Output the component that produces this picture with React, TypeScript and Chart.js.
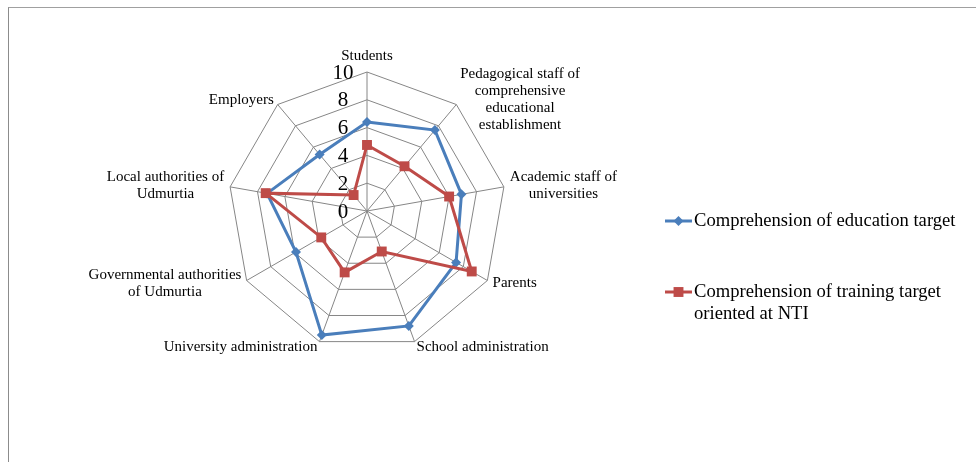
import { useEffect, useRef } from "react";
import { Chart, registerables } from "chart.js";

Chart.register(...registerables);

const categories: (string | string[])[] = [
  "Students",
  ["Pedagogical staff of", "comprehensive", "educational", "establishment"],
  ["Academic staff of", "universities"],
  "Parents",
  "School administration",
  "University administration",
  ["Governmental authorities", "of Udmurtia"],
  ["Local authorities of", "Udmurtia"],
  "Employers",
];

const educationTarget = [6.4, 7.6, 6.9, 7.4, 8.8, 9.5, 5.9, 7.3, 5.3];
const trainingTarget = [4.75, 4.2, 6.0, 8.7, 3.1, 4.7, 3.8, 7.4, 1.5];

const tickValues = [0, 2, 4, 6, 8, 10];

const seriesNames = [
  "Comprehension of education target",
  "Comprehension of training target oriented at NTI",
];
const legendLines: string[][] = [
  ["Comprehension of education target"],
  ["Comprehension of training target", "oriented at NTI"],
];

const BLUE = "#4A7EBB";
const RED = "#BE4B48";
const GRID = "#868686";
const SERIF = "'Liberation Serif', 'Times New Roman', serif";

function drawMarker(ctx: CanvasRenderingContext2D, style: string, x: number, y: number, r: number, color: string) {
  ctx.beginPath();
  if (style === "rectRot") {
    ctx.moveTo(x - r, y);
    ctx.lineTo(x, y - r);
    ctx.lineTo(x + r, y);
    ctx.lineTo(x, y + r);
    ctx.closePath();
  } else {
    const s = Math.SQRT1_2 * r;
    ctx.rect(x - s, y - s, 2 * s, 2 * s);
  }
  ctx.fillStyle = color;
  ctx.fill();
}

const radarDecor = {
  id: "radarDecor",
  afterDraw(chart: any) {
    const scale = chart.scales.r;
    const ctx: CanvasRenderingContext2D = chart.ctx;
    ctx.save();

    // tick labels
    ctx.font = `21px ${SERIF}`;
    ctx.fillStyle = "#000";
    ctx.textAlign = "center";
    ctx.textBaseline = "middle";
    tickValues.forEach((v) => {
      const d = scale.getDistanceFromCenterForValue(v);
      ctx.fillText(String(v), scale.xCenter - 24, scale.yCenter - d + 1);
    });

    // point labels
    ctx.font = `15px ${SERIF}`;
    const labels: (string | string[])[] = chart.data.labels;
    const n = labels.length;
    const lh = 17;
    labels.forEach((lab, i) => {
      const lines = Array.isArray(lab) ? lab : [lab];
      const ang = (i * 2 * Math.PI) / n;
      const sin = Math.sin(ang);
      const cos = Math.cos(ang);
      const pos = scale.getPointPosition(i, scale.drawingArea + 6);
      const w = Math.max(...lines.map((l) => ctx.measureText(l).width));
      const h = lines.length * lh;
      let left: number;
      if (Math.abs(sin) < 0.01) left = pos.x - w / 2;
      else if (sin > 0) left = pos.x;
      else left = pos.x - w;
      let top: number;
      if (cos > 0.99) top = pos.y - h - 1;
      else top = pos.y - h / 2;
      ctx.textAlign = "center";
      ctx.textBaseline = "middle";
      lines.forEach((l, j) => {
        ctx.fillText(l, left + w / 2, top + lh * j + lh / 2);
      });
    });

    // legend
    const lx = 656;
    const ys = [213, 284];
    ctx.font = `18.6px ${SERIF}`;
    ctx.textAlign = "left";
    ctx.textBaseline = "middle";
    chart.data.datasets.forEach((ds: any, k: number) => {
      const y = ys[k];
      ctx.strokeStyle = ds.borderColor;
      ctx.lineWidth = 3;
      ctx.beginPath();
      ctx.moveTo(lx, y);
      ctx.lineTo(lx + 27, y);
      ctx.stroke();
      drawMarker(ctx, ds.pointStyle, lx + 13.5, y, ds.pointRadius, ds.borderColor);
      ctx.fillStyle = "#000";
      legendLines[k].forEach((t, j) => {
        ctx.fillText(t, lx + 29, y + j * 22);
      });
    });

    ctx.restore();
  },
};

export default function App() {
  const ref = useRef<HTMLCanvasElement | null>(null);

  useEffect(() => {
    if (!ref.current) return;
    const chart = new Chart(ref.current, {
      type: "radar",
      data: {
        labels: categories,
        datasets: [
          {
            label: seriesNames[0],
            data: educationTarget,
            borderColor: BLUE,
            backgroundColor: BLUE,
            pointBackgroundColor: BLUE,
            pointBorderColor: BLUE,
            borderWidth: 3,
            pointStyle: "rectRot",
            pointRadius: 5,
            pointBorderWidth: 0,
            fill: false,
            order: 1,
          } as any,
          {
            label: seriesNames[1],
            data: trainingTarget,
            borderColor: RED,
            backgroundColor: RED,
            pointBackgroundColor: RED,
            pointBorderColor: RED,
            borderWidth: 3,
            pointStyle: "rect",
            pointRadius: 7,
            pointBorderWidth: 0,
            fill: false,
            order: 0,
          } as any,
        ],
      },
      options: {
        animation: false,
        responsive: true,
        maintainAspectRatio: false,
        layout: { padding: { left: 20, right: 271, top: 64, bottom: 112 } },
        plugins: {
          legend: { display: false },
          tooltip: { enabled: false },
        },
        scales: {
          r: {
            min: 0,
            max: 10,
            ticks: { stepSize: 2, display: false },
            pointLabels: { display: false },
            grid: { color: GRID, lineWidth: 1 },
            angleLines: { color: GRID, lineWidth: 1 },
          },
        },
      },
      plugins: [radarDecor],
    });
    return () => chart.destroy();
  }, []);

  return (
    <div
      style={{
        position: "fixed",
        left: 8,
        top: 7,
        width: 968,
        height: 455,
        boxSizing: "border-box",
        borderTop: "1px solid #a0a0a0",
        borderLeft: "1px solid #8c8c8c",
        background: "#fff",
      }}
    >
      <div style={{ position: "relative", width: 967, height: 454 }}>
        <canvas ref={ref} />
      </div>
    </div>
  );
}
